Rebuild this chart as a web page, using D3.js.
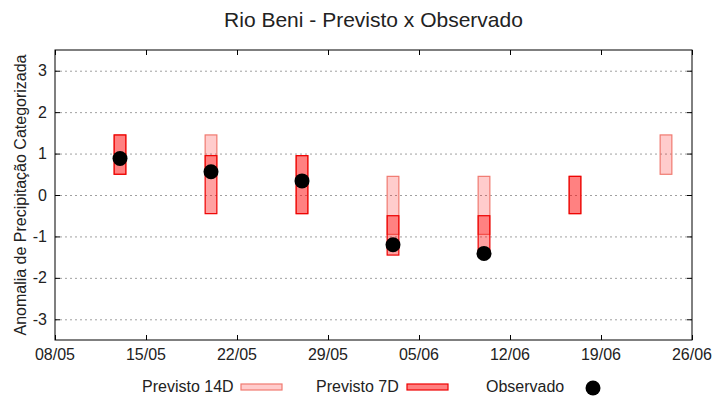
<!DOCTYPE html>
<html>
<head>
<meta charset="utf-8">
<script src="https://cdn.jsdelivr.net/npm/d3@7"></script>
<style>
  body { margin: 0; background: #fff; }
  svg { font-family: "Liberation Sans", Arial, sans-serif; }
</style>
</head>
<body>
<svg width="720" height="400"></svg>
<script>
// forecast dates (dd/mm)
var dates = ["13/05", "20/05", "27/05", "03/06", "10/06", "17/06", "24/06"];
// Previsto 14D: lower / upper
var prev14Low = [0.5, 0.5, -0.45, -0.95, -0.95, -0.45, 0.5];
var prev14High = [1.45, 1.45, 0.95, 0.45, 0.45, 0.45, 1.45];
// Previsto 7D: lower / upper (null = no forecast)
var prev7Low = [0.5, -0.45, -0.45, -1.45, -1.45, -0.45, null];
var prev7High = [1.45, 0.95, 0.95, -0.5, -0.5, 0.45, null];
// Observado
var observed = [0.88, 0.56, 0.34, -1.2, -1.41, null, null];

var xTicks = ["08/05", "15/05", "22/05", "29/05", "05/06", "12/06", "19/06", "26/06"];
var yTicks = [-3, -2, -1, 0, 1, 2, 3];

var parse = function(s) {
  var p = s.split("/");
  return new Date(Date.UTC(2023, +p[1] - 1, +p[0]));
};

var svg = d3.select("svg"),
    margin = {left: 55, right: 28, top: 50, bottom: 60},
    width = +svg.attr("width"),
    height = +svg.attr("height"),
    x0 = margin.left, x1 = width - margin.right,
    y0 = margin.top, y1 = height - margin.bottom;

var x = d3.scaleUtc()
  .domain([parse(xTicks[0]), parse(xTicks[xTicks.length - 1])])
  .range([x0, x1]);

var y = d3.scaleLinear()
  .domain([-3.5, 3.5])
  .range([y1, y0]);

var dayW = x(parse("02/01")) - x(parse("01/01"));
var boxW = dayW * 0.9;

// title
svg.append("text")
  .attr("x", (x0 + x1) / 2)
  .attr("y", 27)
  .attr("text-anchor", "middle")
  .style("font-size", "21px")
  .attr("fill", "#222")
  .text("Rio Beni - Previsto x Observado");

// grid
svg.append("g")
  .selectAll("line")
  .data(yTicks)
  .enter().append("line")
  .attr("x1", x0).attr("x2", x1)
  .attr("y1", function(d) { return y(d) + 0.5; })
  .attr("y2", function(d) { return y(d) + 0.5; })
  .attr("stroke", "#a0a0a0")
  .attr("stroke-width", 1)
  .attr("stroke-dasharray", "2,3");

// axes with inward ticks, mirrored
var tickFmt = d3.utcFormat("%d/%m");
svg.append("g")
  .attr("transform", "translate(0," + y1 + ")")
  .call(d3.axisTop(x).tickValues(xTicks.map(parse)).tickSize(5).tickFormat(""))
  .call(function(g) { g.select(".domain").remove(); });
svg.append("g")
  .attr("transform", "translate(0," + y0 + ")")
  .call(d3.axisBottom(x).tickValues(xTicks.map(parse)).tickSize(5).tickFormat(""))
  .call(function(g) { g.select(".domain").remove(); });
svg.append("g")
  .attr("transform", "translate(" + x0 + ",0)")
  .call(d3.axisRight(y).tickValues(yTicks).tickSize(5).tickFormat(""))
  .call(function(g) { g.select(".domain").remove(); });
svg.append("g")
  .attr("transform", "translate(" + x1 + ",0)")
  .call(d3.axisLeft(y).tickValues(yTicks).tickSize(5).tickFormat(""))
  .call(function(g) { g.select(".domain").remove(); });
svg.selectAll(".tick line").attr("stroke", "#000");

// tick labels
svg.append("g")
  .selectAll("text")
  .data(xTicks)
  .enter().append("text")
  .attr("x", function(d) { return x(parse(d)); })
  .attr("y", y1 + 20)
  .attr("text-anchor", "middle")
  .style("font-size", "16px")
  .attr("fill", "#222")
  .text(function(d) { return tickFmt(parse(d)); });

svg.append("g")
  .selectAll("text")
  .data(yTicks)
  .enter().append("text")
  .attr("x", x0 - 8)
  .attr("y", function(d) { return y(d); })
  .attr("dy", "0.35em")
  .attr("text-anchor", "end")
  .style("font-size", "16px")
  .attr("fill", "#222")
  .text(function(d) { return d; });

svg.append("text")
  .attr("transform", "translate(26," + (y0 + y1) / 2 + ") rotate(-90)")
  .attr("text-anchor", "middle")
  .style("font-size", "16px")
  .attr("fill", "#222")
  .text("Anomalia de Precipitação Categorizada");

// boxes
var c14 = {fill: "#ff0000", op: 0.2, stroke: "#f07a70"};
var c7 = {fill: "#ff0000", op: 0.37, stroke: "#ee0000"};

var plot = svg.append("g");

function drawBoxes(low, high, c) {
  var idx = d3.range(dates.length).filter(function(i) { return low[i] != null; });
  plot.append("g")
    .selectAll("rect")
    .data(idx)
    .enter().append("rect")
    .attr("x", function(i) { return x(parse(dates[i])) - boxW / 2; })
    .attr("width", boxW)
    .attr("y", function(i) { return y(high[i]); })
    .attr("height", function(i) { return y(low[i]) - y(high[i]); })
    .attr("fill", c.fill)
    .attr("fill-opacity", c.op)
    .attr("stroke", c.stroke)
    .attr("stroke-width", 1.2);
}
drawBoxes(prev14Low, prev14High, c14);
drawBoxes(prev7Low, prev7High, c7);

plot.append("g")
  .selectAll("circle")
  .data(d3.range(dates.length).filter(function(i) { return observed[i] != null; }))
  .enter().append("circle")
  .attr("cx", function(i) { return x(parse(dates[i])); })
  .attr("cy", function(i) { return y(observed[i]); })
  .attr("r", 7.5)
  .attr("fill", "#000");

// border
svg.append("rect")
  .attr("x", x0).attr("y", y0)
  .attr("width", x1 - x0).attr("height", y1 - y0)
  .attr("fill", "none")
  .attr("stroke", "#000")
  .attr("stroke-width", 1);

// legend
var legend = [
  {label: "Previsto 14D", tx: 142, sx: 241, type: c14},
  {label: "Previsto 7D", tx: 316, sx: 407, type: c7},
  {label: "Observado", tx: 486, sx: 593, type: null}
];
var ly = 386;
var lg = svg.append("g").selectAll("g").data(legend).enter().append("g");
lg.append("text")
  .attr("x", function(d) { return d.tx; })
  .attr("y", ly)
  .attr("dy", "0.35em")
  .style("font-size", "16px")
  .attr("fill", "#222")
  .text(function(d) { return d.label; });
lg.filter(function(d) { return d.type; }).append("rect")
  .attr("x", function(d) { return d.sx; })
  .attr("y", ly - 2)
  .attr("width", 41)
  .attr("height", 6)
  .attr("fill", function(d) { return d.type.fill; })
  .attr("fill-opacity", function(d) { return d.type === c7 ? 0.5 : d.type.op; })
  .attr("stroke", function(d) { return d.type.stroke; })
  .attr("stroke-width", 1.2);
lg.filter(function(d) { return !d.type; }).append("circle")
  .attr("cx", function(d) { return d.sx; })
  .attr("cy", ly + 2)
  .attr("r", 7.5)
  .attr("fill", "#000");
</script>
</body>
</html>
